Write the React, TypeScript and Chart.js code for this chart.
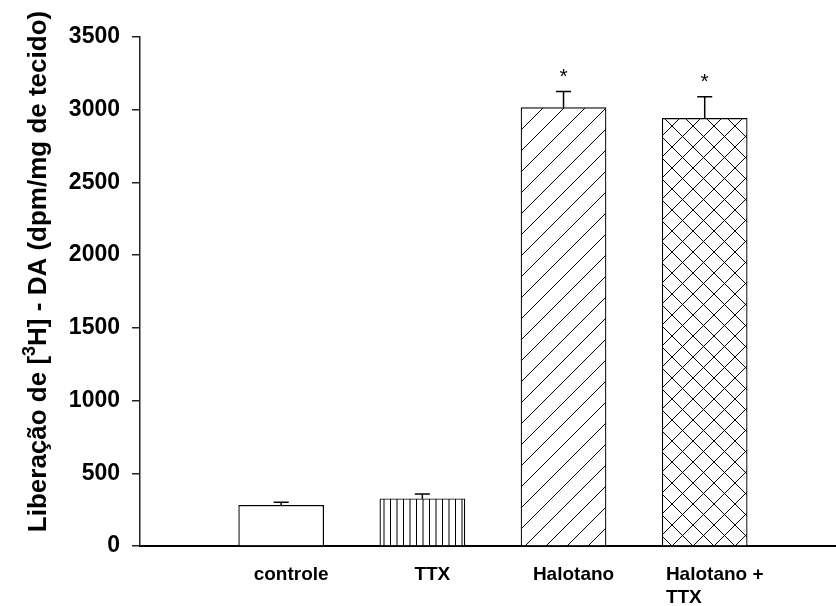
import React, { useEffect, useRef } from "react";
import { Chart, registerables } from "chart.js";

Chart.register(...registerables);

// Groups (multi-line labels are given as several strings)
const groups: string[][] = [["controle"], ["TTX"], ["Halotano"], ["Halotano +", "TTX"]];
// [3H]-DA release, dpm/mg tissue
const release: number[] = [280, 325, 3015, 2940];
// upper error (SEM)
const errors: number[] = [20, 32, 110, 150];
// groups marked with an asterisk
const significant: boolean[] = [false, false, true, true];
// y axis tick values
const yTickValues: number[] = [0, 500, 1000, 1500, 2000, 2500, 3000, 3500];
// bar fill styles
const fills: string[] = ["plain", "vertical", "diagonal", "crosshatch"];

const FONT = '"Liberation Sans", Arial, Helvetica, sans-serif';

function makePattern(kind: string): CanvasPattern | string {
  if (kind === "plain") return "#ffffff";
  const c = document.createElement("canvas");
  const ctx = c.getContext("2d")!;
  if (kind === "vertical") {
    c.width = 13;
    c.height = 4;
    ctx.fillStyle = "#fff";
    ctx.fillRect(0, 0, 13, 4);
    ctx.fillStyle = "#000";
    ctx.fillRect(0, 0, 1, 4);
    ctx.globalAlpha = 0.5;
    ctx.fillRect(6, 0, 1, 4);
    ctx.fillRect(7, 0, 1, 4);
    ctx.globalAlpha = 1;
  } else {
    const s = 21;
    c.width = s;
    c.height = s;
    ctx.fillStyle = "#fff";
    ctx.fillRect(0, 0, s, s);
    ctx.strokeStyle = "#000";
    ctx.lineWidth = 1;
    ctx.beginPath();
    ctx.moveTo(-2, s + 2);
    ctx.lineTo(s + 2, -2);
    ctx.moveTo(-2, 2);
    ctx.lineTo(2, -2);
    ctx.moveTo(s - 2, s + 2);
    ctx.lineTo(s + 2, s - 2);
    if (kind === "crosshatch") {
      ctx.moveTo(-2, -2);
      ctx.lineTo(s + 2, s + 2);
      ctx.moveTo(s - 2, -2);
      ctx.lineTo(s + 2, 2);
      ctx.moveTo(-2, s - 2);
      ctx.lineTo(2, s + 2);
    }
    ctx.stroke();
  }
  return ctx.createPattern(c, "repeat")!;
}

// Error bars, asterisks, group labels and the y title with its superscript
const annotations = {
  id: "annotations",
  afterDatasetsDraw(chart: any) {
    const { ctx, scales } = chart;
    const xs = scales.x;
    const ys = scales.y;
    ctx.save();
    ctx.strokeStyle = "#000";
    ctx.fillStyle = "#000";
    ctx.lineWidth = 1.5;
    release.forEach((v, i) => {
      const x = xs.getPixelForValue(i + 1);
      const yTop = ys.getPixelForValue(v);
      const yCap = ys.getPixelForValue(v + errors[i]);
      ctx.beginPath();
      ctx.moveTo(x, yTop);
      ctx.lineTo(x, yCap);
      ctx.moveTo(x - 7.5, yCap);
      ctx.lineTo(x + 7.5, yCap);
      ctx.stroke();
      if (significant[i]) {
        ctx.font = `21px ${FONT}`;
        ctx.textAlign = "center";
        ctx.textBaseline = "alphabetic";
        ctx.fillText("*", x, yCap - 9);
      }
    });
    ctx.restore();
  },
  afterDraw(chart: any) {
    const { ctx, scales, chartArea } = chart;
    const xs = scales.x;
    ctx.save();
    ctx.fillStyle = "#000";
    // group labels below the axis
    ctx.font = `bold 19px ${FONT}`;
    ctx.textAlign = "left";
    ctx.textBaseline = "alphabetic";
    groups.forEach((lines, i) => {
      const cx = xs.getPixelForValue(i + 1) + 10;
      const w = Math.max(...lines.map((l) => ctx.measureText(l).width));
      const left = cx - w / 2;
      lines.forEach((l, j) => {
        ctx.fillText(l, left, chartArea.bottom + 34 + j * 23);
      });
    });
    // rotated y title
    const big = `bold 26px ${FONT}`;
    const small = `bold 18px ${FONT}`;
    const p1 = "Liberação de [";
    const p2 = "3";
    const p3 = "H] - DA (dpm/mg de tecido)";
    ctx.font = big;
    const w1 = ctx.measureText(p1).width;
    const w3 = ctx.measureText(p3).width;
    ctx.font = small;
    const w2 = ctx.measureText(p2).width;
    const total = w1 + w2 + w3;
    ctx.translate(46, (chartArea.top + chartArea.bottom) / 2 - 20);
    ctx.rotate(-Math.PI / 2);
    let x = -total / 2;
    ctx.font = big;
    ctx.fillText(p1, x, 0);
    x += w1;
    ctx.font = small;
    ctx.fillText(p2, x, -11);
    x += w2;
    ctx.font = big;
    ctx.fillText(p3, x, 0);
    ctx.restore();
  },
};

export default function App() {
  const ref = useRef<HTMLCanvasElement | null>(null);

  useEffect(() => {
    if (!ref.current) return;
    const chart = new Chart(ref.current, {
      type: "bar",
      data: {
        datasets: [
          {
            data: release.map((v, i) => ({ x: i + 1, y: v })),
            backgroundColor: fills.map(makePattern) as any,
            borderColor: "#000",
            borderWidth: 1.2,
            borderSkipped: "bottom",
            barThickness: 85,
          },
        ],
      },
      options: {
        responsive: false,
        animation: false,
        devicePixelRatio: 1,
        layout: { padding: { top: 37, right: 0, bottom: 0, left: 0 } },
        plugins: {
          legend: { display: false },
          tooltip: { enabled: false },
          title: { display: false },
        },
        scales: {
          x: {
            type: "linear",
            offset: false,
            min: 0,
            max: 4.93,
            ticks: { display: false },
            grid: { display: true, drawOnChartArea: false, drawTicks: false },
            border: { display: true, color: "#000", width: 2 },
            afterFit: (s: any) => {
              s.height = 60;
            },
          },
          y: {
            min: 0,
            max: 3500,
            afterBuildTicks: (s: any) => {
              s.ticks = yTickValues.map((v) => ({ value: v }));
            },
            ticks: {
              color: "#000",
              padding: 12,
              font: { family: FONT, size: 23, weight: "bold" },
              callback: (v: any) => String(v),
            },
            grid: {
              display: true,
              drawOnChartArea: false,
              drawTicks: true,
              tickLength: 8,
              color: "#222",
              lineWidth: 1.5,
            },
            border: { display: true, color: "#222", width: 1.5 },
            afterFit: (s: any) => {
              s.width = 140;
            },
          },
        },
      },
      plugins: [annotations],
    });
    return () => chart.destroy();
  }, []);

  return (
    <div style={{ position: "absolute", left: 0, top: 0, width: 836, height: 606, background: "#fff" }}>
      <canvas ref={ref} width={836} height={606} />
    </div>
  );
}
